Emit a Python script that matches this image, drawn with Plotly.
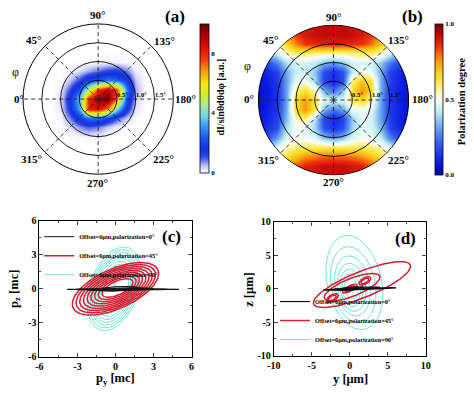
import numpy as np
import plotly.graph_objects as go

W, H = 474, 393
FONT = "Liberation Serif, Times New Roman, serif"

# ---------------- data ----------------
GRID = [-2.0, -1.75, -1.5, -1.25, -1.0, -0.75, -0.5, -0.25, 0.0,
        0.25, 0.5, 0.75, 1.0, 1.25, 1.5, 1.75, 2.0]

# (a) dI/sin(theta)d(theta)d(phi), rows: y from -2 to 2, cols: x from -2 to 2
INTENSITY_A = [
    [0] * 17,
    [0] * 17,
    [0] * 17,
    [0] * 17,
    [0, 0, 0, 0, 0.0, 0.0, 0.05, 0.1, 0.05, 0.0, 0.0, 0.0, 0.0, 0, 0, 0, 0],
    [0, 0, 0, 0, 0.0, 0.25, 0.7, 1.0, 0.8, 0.4, 0.15, 0.0, 0.0, 0, 0, 0, 0],
    [0, 0, 0, 0, 0.1, 0.8, 1.8, 2.7, 2.7, 1.9, 1.1, 0.4, 0.05, 0, 0, 0, 0],
    [0, 0, 0, 0, 0.2, 1.4, 3.3, 8.2, 8.5, 7.0, 4.0, 1.5, 0.2, 0, 0, 0, 0],
    [0, 0, 0, 0, 0.25, 1.6, 3.8, 8.0, 9.5, 10.0, 7.0, 2.3, 0.4, 0, 0, 0, 0],
    [0, 0, 0, 0, 0.15, 1.1, 2.3, 5.0, 8.0, 9.0, 7.8, 2.9, 0.6, 0, 0, 0, 0],
    [0, 0, 0, 0, 0.0, 0.4, 1.1, 1.9, 2.3, 2.7, 2.5, 1.7, 0.4, 0, 0, 0, 0],
    [0, 0, 0, 0, 0.0, 0.05, 0.3, 0.6, 0.9, 1.2, 1.3, 0.8, 0.15, 0, 0, 0, 0],
    [0, 0, 0, 0, 0.0, 0.0, 0.0, 0.0, 0.05, 0.1, 0.1, 0.05, 0.0, 0, 0, 0, 0],
    [0] * 17,
    [0] * 17,
    [0] * 17,
    [0] * 17,
]

# (b) polarization degree, same grid
POLDEG_B = [
    [0.50, 0.55, 0.62, 0.72, 0.82, 0.88, 0.90, 0.92, 0.92, 0.92, 0.90, 0.88, 0.82, 0.72, 0.62, 0.55, 0.50],
    [0.45, 0.52, 0.62, 0.72, 0.82, 0.88, 0.90, 0.92, 0.92, 0.92, 0.90, 0.88, 0.82, 0.72, 0.62, 0.52, 0.45],
    [0.40, 0.46, 0.55, 0.62, 0.70, 0.75, 0.78, 0.80, 0.80, 0.80, 0.78, 0.75, 0.70, 0.62, 0.55, 0.46, 0.40],
    [0.30, 0.36, 0.46, 0.54, 0.58, 0.60, 0.60, 0.60, 0.60, 0.60, 0.60, 0.60, 0.58, 0.54, 0.46, 0.36, 0.30],
    [0.14, 0.18, 0.30, 0.46, 0.50, 0.50, 0.46, 0.36, 0.30, 0.36, 0.46, 0.50, 0.48, 0.42, 0.26, 0.16, 0.14],
    [0.08, 0.12, 0.18, 0.40, 0.50, 0.48, 0.38, 0.18, 0.13, 0.18, 0.38, 0.48, 0.46, 0.34, 0.16, 0.10, 0.08],
    [0.06, 0.10, 0.15, 0.34, 0.54, 0.58, 0.40, 0.16, 0.11, 0.16, 0.36, 0.47, 0.45, 0.30, 0.14, 0.09, 0.06],
    [0.05, 0.09, 0.14, 0.32, 0.65, 0.76, 0.62, 0.32, 0.24, 0.30, 0.48, 0.50, 0.47, 0.30, 0.14, 0.09, 0.06],
    [0.05, 0.08, 0.13, 0.30, 0.65, 0.75, 0.62, 0.47, 0.45, 0.47, 0.60, 0.65, 0.56, 0.30, 0.14, 0.09, 0.06],
    [0.05, 0.08, 0.13, 0.30, 0.58, 0.65, 0.55, 0.32, 0.24, 0.36, 0.65, 0.76, 0.66, 0.32, 0.14, 0.09, 0.06],
    [0.06, 0.09, 0.14, 0.30, 0.48, 0.50, 0.38, 0.16, 0.11, 0.18, 0.58, 0.70, 0.62, 0.32, 0.15, 0.10, 0.06],
    [0.08, 0.11, 0.16, 0.32, 0.44, 0.44, 0.36, 0.18, 0.13, 0.18, 0.42, 0.52, 0.48, 0.32, 0.16, 0.11, 0.08],
    [0.14, 0.17, 0.26, 0.40, 0.44, 0.45, 0.42, 0.34, 0.30, 0.36, 0.45, 0.46, 0.44, 0.36, 0.24, 0.16, 0.13],
    [0.30, 0.35, 0.45, 0.55, 0.60, 0.60, 0.58, 0.57, 0.57, 0.57, 0.58, 0.60, 0.60, 0.55, 0.45, 0.35, 0.30],
    [0.40, 0.45, 0.55, 0.65, 0.78, 0.85, 0.87, 0.88, 0.88, 0.88, 0.87, 0.85, 0.80, 0.68, 0.55, 0.45, 0.40],
    [0.45, 0.52, 0.62, 0.75, 0.85, 0.90, 0.92, 0.93, 0.93, 0.93, 0.92, 0.90, 0.85, 0.75, 0.62, 0.52, 0.45],
    [0.50, 0.55, 0.60, 0.70, 0.80, 0.88, 0.90, 0.92, 0.92, 0.92, 0.90, 0.88, 0.80, 0.70, 0.60, 0.55, 0.50],
]

ANG_TICKS = [0, 45, 90, 135, 180, 225, 270, 315]
ANG_LABELS = ["0°", "45°", "90°", "135°", "180°", "225°", "270°", "315°"]
RAD_TICKS = [0.5, 1.0, 1.5]
RAD_LABELS = ["0.5°", "1.0°", "1.5°"]

LEGEND_NAMES = ["Offset=6μm,polarization=0°",
                "Offset=6μm,polarization=45°",
                "Offset=6μm,polarization=90°"]

# (c) momentum-space orbits, each ring: centre x, centre y, semi-major, semi-minor, tilt(deg)
BLACK_C_CX = [0.6, 0.5, 0.35, 0.2]
BLACK_C_CY = [-0.05, -0.05, -0.03, 0.0]
BLACK_C_A = [4.4, 3.6, 2.6, 1.6]
BLACK_C_B = [0.04, 0.07, 0.12, 0.2]
BLACK_C_T = [0, 0, 1, 3]

RED_C_CX = [0.0, 0.02, 0.04, 0.06, 0.08, 0.10, 0.12, 0.14, 0.16]
RED_C_CY = [0.0, 0.01, 0.02, 0.03, 0.04, 0.05, 0.06, 0.07, 0.07]
RED_C_A = [3.75, 3.45, 3.15, 2.85, 2.55, 2.25, 1.95, 1.65, 1.35]
RED_C_B = [1.72, 1.58, 1.44, 1.30, 1.16, 1.02, 0.88, 0.74, 0.60]
RED_C_T = [28] * 9

CYAN_C_CX = [-0.1, -0.1, -0.1, -0.1, -0.1, -0.1, -0.1, -0.1, -0.05]
CYAN_C_CY = [0.0, 0.0, 0.0, 0.0, 0.0, 0.0, 0.0, 0.0, 0.9]
CYAN_C_A = [3.8, 3.55, 3.3, 3.05, 2.8, 2.5, 2.2, 1.9, 1.2]
CYAN_C_B = [1.95, 1.82, 1.70, 1.58, 1.46, 1.32, 1.18, 1.04, 0.06]
CYAN_C_T = [74, 74, 74, 74, 74, 74, 74, 74, 88]

# (d) real-space orbits
BLACK_D_CX = [1.3, 0.8, 0.2]
BLACK_D_CY = [-0.05, 0.0, 0.0]
BLACK_D_A = [4.8, 3.2, 1.6]
BLACK_D_B = [0.1, 0.16, 0.22]
BLACK_D_T = [2, 3, 5]

RED_D_CX = [1.6, 0.3, 0.0, 0.0, -2.3, -2.3, 2.0, 2.0]
RED_D_CY = [0.6, 0.2, 0.0, 0.0, -1.4, -1.4, 1.15, 1.15]
RED_D_A = [7.0, 4.0, 1.1, 0.7, 0.9, 0.6, 0.9, 0.6]
RED_D_B = [1.9, 1.3, 0.4, 0.25, 0.45, 0.3, 0.45, 0.3]
RED_D_T = [25, 25, 30, 30, 35, 35, 35, 35]

CYAN_D_CX = [0.6, 0.45, 0.35, 0.25, 0.2, 0.2, 0.2]
CYAN_D_CY = [0.9, 0.6, 0.4, 0.2, 0.1, 0.0, 0.0]
CYAN_D_A = [7.1, 5.7, 4.5, 3.6, 2.8, 2.2, 1.6]
CYAN_D_B = [3.6, 2.9, 2.3, 1.85, 1.5, 1.2, 0.9]
CYAN_D_T = [100, 99, 98, 97, 97, 97, 97]

CB_A_TICKS = [0, 4, 8]
CB_B_TICKS = [0.0, 0.5, 1.0]
CB_B_LABELS = ["0.0", "0.5", "1.0"]

TICKS_C = [-6, -3, 0, 3, 6]
TICKS_D = [-10, -5, 0, 5, 10]

# ---------------- helpers ----------------
def px(x):
    return x / W


def py(y):
    return 1 - y / H


def rings(cx, cy, a, b, t):
    s = np.linspace(0, 2 * np.pi, 160)
    xs, ys = [], []
    for i in range(len(a)):
        th = np.radians(t[i])
        xe = cx[i] + a[i] * np.cos(s) * np.cos(th) - b[i] * np.sin(s) * np.sin(th)
        ye = cy[i] + a[i] * np.cos(s) * np.sin(th) + b[i] * np.sin(s) * np.cos(th)
        xs += list(xe) + [None]
        ys += list(ye) + [None]
    return xs, ys


CS_A = [[0.0, "#ffffff"], [0.02, "#ece9fb"], [0.05, "#b8bcf2"], [0.08, "#7080ec"],
        [0.11, "#2a44e6"], [0.16, "#1530e0"], [0.24, "#1e5af0"], [0.32, "#3c9cf2"],
        [0.38, "#70d4ee"], [0.45, "#a8e8a0"], [0.52, "#d0ec30"], [0.60, "#f8e810"],
        [0.68, "#f8a010"], [0.76, "#f04010"], [0.84, "#e01008"], [0.92, "#b00000"],
        [1.0, "#600000"]]
CS_B = [[0.0, "#0000a0"], [0.08, "#0a1ae0"], [0.2, "#3058f0"], [0.32, "#70a8f0"],
        [0.42, "#c0ecf0"], [0.48, "#e8fafa"], [0.52, "#fcfce8"], [0.58, "#f8f080"],
        [0.65, "#f8e020"], [0.75, "#f8a010"], [0.85, "#f03010"], [0.93, "#c00808"],
        [1.0, "#700000"]]

CA = (93.5, 96.0)
CB = (335.0, 97.0)
R = 77.5

dom_a_x = [px(CA[0] - R), px(CA[0] + R)]
dom_a_y = [py(CA[1] + R), py(CA[1] - R)]
dom_b_x = [px(CB[0] - R), px(CB[0] + R)]
dom_b_y = [py(CB[1] + R), py(CB[1] - R)]

fig = go.Figure()

# heatmaps under the polar grids
fig.add_trace(go.Heatmap(
    x=GRID, y=GRID, z=INTENSITY_A, zsmooth="best", zmin=0, zmax=10,
    colorscale=CS_A, xaxis="x3", yaxis="y3",
    colorbar=dict(x=px(197.5), xanchor="left", xpad=0, ypad=0, thickness=9,
                  len=154 / H, lenmode="fraction", y=py(95), yanchor="middle",
                  outlinewidth=0.8, outlinecolor="black", tickvals=CB_A_TICKS,
                  tickfont=dict(size=7, family=FONT, weight="bold"), ticks=""),
))
fig.add_trace(go.Heatmap(
    x=GRID, y=GRID, z=POLDEG_B, zsmooth="best", zmin=0, zmax=1,
    colorscale=CS_B, xaxis="x4", yaxis="y4",
    colorbar=dict(x=px(439.5), xanchor="left", xpad=0, ypad=0, thickness=8,
                  len=156 / H, lenmode="fraction", y=py(96), yanchor="middle",
                  outlinewidth=0.8, outlinecolor="black", tickvals=CB_B_TICKS,
                  ticktext=CB_B_LABELS,
                  tickfont=dict(size=7, family=FONT, weight="bold"), ticks=""),
))

# polar subplots (grid only)
fig.add_trace(go.Scatterpolar(r=[], theta=[], subplot="polar", showlegend=False))
fig.add_trace(go.Scatterpolar(r=[], theta=[], subplot="polar2", showlegend=False))

# (c)
for xs_ys, col, wdt, name, rank in [
    (rings(CYAN_C_CX, CYAN_C_CY, CYAN_C_A, CYAN_C_B, CYAN_C_T), "#74e4d4", 1.0, LEGEND_NAMES[2], 3),
    (rings(RED_C_CX, RED_C_CY, RED_C_A, RED_C_B, RED_C_T), "#d41e32", 1.5, LEGEND_NAMES[1], 2),
    (rings(BLACK_C_CX, BLACK_C_CY, BLACK_C_A, BLACK_C_B, BLACK_C_T), "#111111", 1.0, LEGEND_NAMES[0], 1),
]:
    fig.add_trace(go.Scatter(x=xs_ys[0], y=xs_ys[1], mode="lines", name=name,
                             line=dict(color=col, width=wdt), legendrank=rank,
                             xaxis="x", yaxis="y", legend="legend"))

# (d)
for xs_ys, col, wdt, name, rank in [
    (rings(CYAN_D_CX, CYAN_D_CY, CYAN_D_A, CYAN_D_B, CYAN_D_T), "#74e4d4", 1.0, LEGEND_NAMES[2], 3),
    (rings(RED_D_CX, RED_D_CY, RED_D_A, RED_D_B, RED_D_T), "#d41e32", 1.5, LEGEND_NAMES[1], 2),
    (rings(BLACK_D_CX, BLACK_D_CY, BLACK_D_A, BLACK_D_B, BLACK_D_T), "#111111", 1.2, LEGEND_NAMES[0], 1),
]:
    fig.add_trace(go.Scatter(x=xs_ys[0], y=xs_ys[1], mode="lines", name=name,
                             line=dict(color=col, width=wdt), legendrank=rank,
                             xaxis="x2", yaxis="y2", legend="legend2"))


def polar_cfg(dx, dy):
    return dict(
        domain=dict(x=dx, y=dy), bgcolor="rgba(0,0,0,0)",
        radialaxis=dict(range=[0, 2], tickvals=RAD_TICKS, showticklabels=False,
                        ticks="", showline=False, gridcolor="black", gridwidth=0.9),
        angularaxis=dict(rotation=180, direction="clockwise", tickvals=ANG_TICKS,
                         showticklabels=False, ticks="", showline=True,
                         linecolor="black", linewidth=1, gridcolor="#222222",
                         gridwidth=0.9, griddash="4px,3px"),
    )


def cart_axis(dom, rng, vals, anchor, minor):
    return dict(domain=dom, range=rng, tickvals=vals, ticktext=[str(v) for v in vals],
                ticks="inside", ticklen=4, tickwidth=1, showline=True, mirror="allticks",
                linecolor="black", linewidth=1, showgrid=False, zeroline=False,
                anchor=anchor, tickfont=dict(size=10, family=FONT, weight="bold"),
                minor=dict(tickvals=minor, ticks="inside", ticklen=2, tickwidth=1),
                fixedrange=True)


hidden = dict(visible=False, showgrid=False, zeroline=False, range=[-2, 2], fixedrange=True)

ann = []


def text(xp, yp, s, size, angle=0, weight="bold"):
    ann.append(dict(x=px(xp), y=py(yp), xref="paper", yref="paper", text=s,
                    showarrow=False, xanchor="center", yanchor="middle",
                    textangle=angle,
                    font=dict(size=size, family=FONT, color="black", weight=weight)))


# angular labels
A_POS = [(12, 96), (27, 35), (93, 9), (162, 36), (183, 96), (161, 158), (93, 183), (25, 158)]
B_POS = [(248, 96), (270, 35), (335, 11), (402, 35), (426, 96), (402, 159), (335, 182), (268, 159)]
for lab, p in zip(ANG_LABELS, A_POS):
    text(p[0], p[1], lab, 11)
for lab, p in zip(ANG_LABELS, B_POS):
    text(p[0], p[1], lab, 11)
for lab, dxp in zip(RAD_LABELS, [25, 45, 64]):
    text(CA[0] + dxp, CA[1] - 5, lab, 6.5)
    text(CB[0] + dxp, CB[1] - 6, lab, 6.5)
text(9, 68, "φ", 12, weight="normal")
text(247, 62, "φ", 12, weight="normal")
text(172, 11, "(a)", 17)
text(416, 11, "(b)", 17)
text(169, 238, "(c)", 17)
text(409, 240, "(d)", 17)
text(219, 94, "dI/sinθdθdφ [a.u.]", 10, angle=-90)
text(467, 99, "Polarization degree", 10.5, angle=-90)
text(111, 385, "p<sub>y</sub> [mc]", 12.5)
text(8, 292, "p<sub>z</sub> [mc]", 12.5, angle=-90)
text(352, 385, "y [μm]", 12.5)
text(248, 292, "z [μm]", 12.5, angle=-90)

# white ring masking the square heatmap corners outside the (b) disc
RING_W = 36
RR = R + 0.6 + RING_W / 2
shapes = [dict(type="circle", xref="paper", yref="paper", layer="above",
               x0=px(CB[0] - RR), x1=px(CB[0] + RR), y0=py(CB[1] + RR), y1=py(CB[1] - RR),
               line=dict(color="white", width=RING_W), fillcolor="rgba(0,0,0,0)")]

legend_font = dict(size=6.3, family=FONT, color="black", weight="bold")

fig.update_layout(
    width=W, height=H, margin=dict(l=0, r=0, t=0, b=0, pad=0),
    paper_bgcolor="white", plot_bgcolor="rgba(0,0,0,0)",
    font=dict(family=FONT, color="black"),
    polar=polar_cfg(dom_a_x, dom_a_y),
    polar2=polar_cfg(dom_b_x, dom_b_y),
    xaxis=cart_axis([px(33.3), px(189.3)], [-6, 6], TICKS_C, "y", [-4.5, -1.5, 1.5, 4.5]),
    yaxis=cart_axis([py(361.7), py(221.7)], [-6, 6], TICKS_C, "x", [-4.5, -1.5, 1.5, 4.5]),
    xaxis2=cart_axis([px(273.7), px(429.7)], [-10, 10], TICKS_D, "y2", [-7.5, -2.5, 2.5, 7.5]),
    yaxis2=cart_axis([py(360.7), py(222.3)], [-10, 10], TICKS_D, "x2", [-7.5, -2.5, 2.5, 7.5]),
    xaxis3=dict(hidden, domain=dom_a_x, anchor="y3"),
    yaxis3=dict(hidden, domain=dom_a_y, anchor="x3"),
    xaxis4=dict(hidden, domain=dom_b_x, anchor="y4"),
    yaxis4=dict(hidden, domain=dom_b_y, anchor="x4"),
    legend=dict(x=px(33), y=py(223), xanchor="left", yanchor="top",
                bgcolor="rgba(0,0,0,0)", font=legend_font, itemwidth=30,
                tracegroupgap=0),
    legend2=dict(x=px(275), y=py(359), xanchor="left", yanchor="bottom",
                 bgcolor="rgba(0,0,0,0)", font=legend_font, itemwidth=30,
                 tracegroupgap=0),
    annotations=ann,
    shapes=shapes,
    showlegend=True,
)

# the page's default body margin would shift the 474x393 figure; remove it
fig.write_html("out.html", config={"displayModeBar": False, "staticPlot": True},
               post_script="document.body.style.margin='0px';")
